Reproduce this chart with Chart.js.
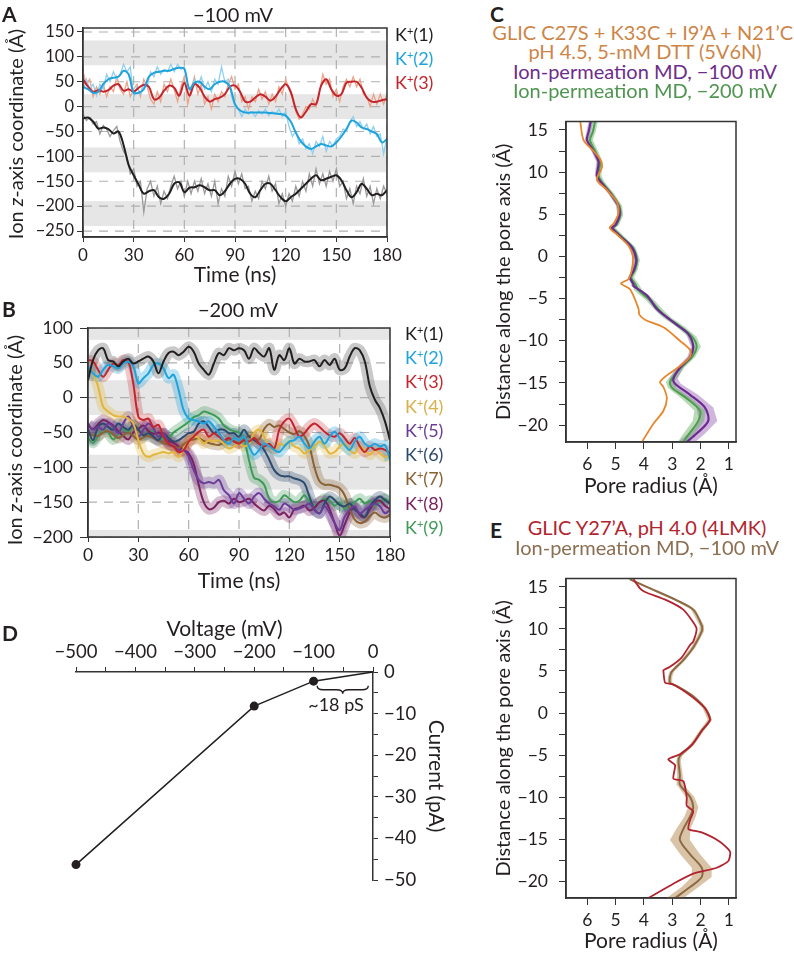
<!DOCTYPE html>
<html>
<head>
<meta charset="utf-8">
<script src="https://cdn.jsdelivr.net/npm/chart.js@4.4.0/dist/chart.umd.min.js"></script>
<style>
  body { margin: 0; background: #fff; }
  #fig { position: relative; width: 794px; height: 954px; overflow: hidden; font-family: Lato, "Open Sans", sans-serif; color: #231f20; }
  #fig canvas { position: absolute; }
  .t { position: absolute; white-space: nowrap; line-height: 1; }
  .c { transform: translate(-50%, -50%); }
  .mid { transform: translateY(-50%); }
  .rot { transform: translate(-50%, -50%) rotate(-90deg); }
  .letter { font-weight: 700; font-size: 21px; }
  .title { font-size: 20px; }
  .axis { font-size: 20px; }
  .leg { font-size: 18px; }
  .sup { font-size: 11px; position: relative; top: -6px; }
</style>
</head>
<body>
<div id="fig">
  <canvas id="chartA" width="420" height="288" style="left:0;top:0"></canvas>
  <canvas id="chartB" width="420" height="298" style="left:0;top:296px"></canvas>
  <canvas id="chartD" width="470" height="300" style="left:0;top:600px"></canvas>
  <canvas id="chartC" width="304" height="399" style="left:490px;top:100px"></canvas>
  <canvas id="chartE" width="304" height="397" style="left:490px;top:557px"></canvas>

  <div class="t letter" style="left:2px;top:3px">A</div>
  <div class="t letter" style="left:2px;top:298px">B</div>
  <div class="t letter" style="left:490px;top:3px">C</div>
  <div class="t letter" style="left:2px;top:622px">D</div>
  <div class="t letter" style="left:490px;top:519px">E</div>

  <div class="t title c" style="left:233px;top:14px">−100 mV</div>
  <div class="t title c" style="left:238px;top:309px">−200 mV</div>
  <div class="t axis rot" style="left:15px;top:134px">Ion <i>z</i>-axis coordinate (Å)</div>
  <div class="t axis rot" style="left:14px;top:440px">Ion <i>z</i>-axis coordinate (Å)</div>

  <div class="t leg mid" style="left:395px;top:34px;color:#231f20">K<span class="sup">+</span>(1)</div>
  <div class="t leg mid" style="left:395px;top:58px;color:#1fa3dc">K<span class="sup">+</span>(2)</div>
  <div class="t leg mid" style="left:395px;top:82px;color:#c4252c">K<span class="sup">+</span>(3)</div>

  <div class="t leg mid" style="left:405px;top:333px;color:#231f20">K<span class="sup">+</span>(1)</div>
  <div class="t leg mid" style="left:405px;top:357px;color:#1fa3dc">K<span class="sup">+</span>(2)</div>
  <div class="t leg mid" style="left:405px;top:381px;color:#c4252c">K<span class="sup">+</span>(3)</div>
  <div class="t leg mid" style="left:405px;top:406px;color:#d9b04a">K<span class="sup">+</span>(4)</div>
  <div class="t leg mid" style="left:405px;top:430px;color:#6b3c97">K<span class="sup">+</span>(5)</div>
  <div class="t leg mid" style="left:405px;top:454px;color:#2d4a6d">K<span class="sup">+</span>(6)</div>
  <div class="t leg mid" style="left:405px;top:478px;color:#8a6236">K<span class="sup">+</span>(7)</div>
  <div class="t leg mid" style="left:405px;top:503px;color:#7a2160">K<span class="sup">+</span>(8)</div>
  <div class="t leg mid" style="left:405px;top:527px;color:#3f9a59">K<span class="sup">+</span>(9)</div>

  <div class="t title c" style="left:645px;top:32px;color:#cd8547">GLIC C27S + K33C + I9’A + N21’C,</div>
  <div class="t title c" style="left:645px;top:51px;color:#cd8547">pH 4.5, 5-mM DTT (5V6N)</div>
  <div class="t title c" style="left:645px;top:71px;color:#6e2c8a">Ion-permeation MD, −100 mV</div>
  <div class="t title c" style="left:645px;top:90px;color:#4f9550">Ion-permeation MD, −200 mV</div>

  <div class="t title c" style="left:647px;top:527px;color:#b2242e">GLIC Y27’A, pH 4.0 (4LMK)</div>
  <div class="t title c" style="left:647px;top:547px;color:#8c6e50">Ion-permeation MD, −100 mV</div>

  <div class="t c" style="left:336px;top:704px;font-size:18px">~18 pS</div>
</div>

<script>
// ---------- data ----------
const times3 = [0,3,6,9,12,15,18,21,24,27,30,33,36,39,42,45,48,51,54,57,60,63,66,69,72,75,78,81,84,87,90,93,96,99,102,105,108,111,114,117,120,123,126,129,132,135,138,141,144,147,150,153,156,159,162,165,168,171,174,177,180];
const times2 = [0,2,4,6,8,10,12,14,16,18,20,22,24,26,28,30,32,34,36,38,40,42,44,46,48,50,52,54,56,58,60,62,64,66,68,70,72,74,76,78,80,82,84,86,88,90,92,94,96,98,100,102,104,106,108,110,112,114,116,118,120,122,124,126,128,130,132,134,136,138,140,142,144,146,148,150,152,154,156,158,160,162,164,166,168,170,172,174,176,178,180];
const timeTicks = [0,30,60,90,120,150,180];
const ionTicksA = [150,100,50,0,-50,-100,-150,-200,-250];
const ionTicksB = [100,50,0,-50,-100,-150,-200];
// membrane / periodic slabs shaded grey (Å)
const membraneBands = [[83,133],[-25,25],[-132,-82],[-240,-190]];

// panel A, -100 mV: running average (3 ns) and raw trace (2 ns)
const ionA1 = [-24,-22,-30,-44,-42,-45,-54,-50,-77,-117,-138,-157,-175,-170,-168,-182,-185,-175,-155,-152,-172,-163,-162,-158,-162,-168,-168,-178,-170,-155,-145,-145,-155,-175,-182,-168,-155,-155,-168,-182,-190,-182,-175,-165,-155,-145,-138,-148,-145,-141,-138,-148,-168,-182,-172,-155,-165,-178,-175,-178,-168];
const ionA2 = [40,35,28,30,45,55,58,60,72,65,28,28,35,60,68,70,72,72,76,78,76,35,48,50,40,35,45,50,50,40,5,-8,-12,-12,-12,-12,-12,-13,-14,-15,-18,-30,-52,-70,-80,-85,-80,-75,-78,-80,-72,-60,-45,-28,-32,-42,-45,-50,-55,-72,-65];
const ionA3 = [55,40,30,33,30,33,42,45,32,35,30,38,44,40,15,18,32,42,38,22,48,22,45,38,20,10,15,18,25,40,42,30,10,10,18,25,20,12,20,35,45,30,-5,-22,-10,5,5,42,55,35,22,25,48,50,50,38,18,10,10,13,15];
const rawA1 = [-15,-28,-22,-35,-30,-55,-38,-45,-60,-48,-40,-70,-90,-100,-135,-125,-160,-150,-212,-165,-150,-180,-160,-195,-170,-185,-160,-140,-165,-150,-180,-150,-175,-150,-170,-145,-175,-155,-180,-150,-195,-165,-180,-140,-160,-130,-155,-135,-165,-160,-190,-170,-185,-150,-165,-140,-170,-155,-195,-175,-200,-175,-190,-160,-180,-150,-170,-135,-160,-125,-155,-135,-160,-130,-150,-125,-160,-150,-185,-165,-195,-160,-175,-145,-180,-160,-195,-165,-185,-160,-175];
const rawA2 = [30,55,35,45,22,45,35,65,50,70,55,65,85,70,80,20,40,25,45,40,70,60,80,65,75,70,85,70,85,75,80,45,30,55,40,60,35,50,30,55,45,80,50,55,20,0,-5,-20,-5,-15,-10,-20,-8,-15,-5,-18,-10,-15,-5,-20,-10,-40,-60,-50,-75,-65,-85,-75,-95,-70,-80,-60,-90,-70,-80,-65,-60,-45,-50,-30,-20,-40,-30,-45,-35,-55,-40,-60,-55,-95,-60];
const rawA3 = [70,45,55,20,40,25,45,20,40,30,60,35,25,50,20,35,45,20,55,40,15,5,30,10,45,30,55,35,10,40,60,5,35,60,25,45,5,20,-5,25,10,30,20,45,60,35,45,10,20,-5,20,10,35,15,30,5,25,10,40,25,55,35,15,-10,-25,-15,0,-5,15,0,30,65,45,55,20,35,10,40,55,40,60,40,55,25,20,0,25,5,25,5,25];

// panel B, -200 mV: running averages (3 ns)
const ionB1 = [25,54,68,71,54,52,45,52,56,49,52,56,59,52,35,52,64,66,61,66,73,66,49,40,33,49,64,61,71,68,71,68,56,71,64,59,71,40,61,54,71,49,56,52,52,54,45,54,47,56,40,42,59,71,68,52,16,-3,-15,-34,-61];
const ionB2 = [45,35,30,40,47,45,42,49,52,45,21,28,35,47,49,42,28,33,11,-18,-30,-32,-34,-37,-34,-42,-51,-61,-66,-58,-61,-56,-70,-82,-75,-66,-70,-75,-78,-70,-63,-61,-56,-66,-73,-63,-56,-66,-56,-49,-58,-68,-75,-63,-56,-66,-70,-66,-70,-68,-89];
const ionB3 = [54,52,40,30,40,49,47,54,52,20,-27,-32,-30,-42,-39,-56,-66,-70,-78,-75,-63,-56,-49,-46,-56,-51,-56,-61,-58,-63,-66,-61,-63,-58,-66,-70,-66,-73,-46,-34,-30,-42,-56,-51,-42,-37,-42,-49,-54,-56,-51,-58,-66,-58,-70,-78,-70,-75,-73,-75,-80];
const ionB4 = [45,35,16,-13,-20,-25,-27,-27,-30,-37,-61,-80,-85,-82,-80,-78,-80,-78,-85,-73,-63,-56,-58,-66,-61,-63,-61,-66,-73,-70,-66,-70,-66,-51,-46,-56,-70,-75,-66,-68,-63,-70,-73,-80,-75,-70,-63,-70,-80,-78,-70,-66,-75,-80,-70,-75,-82,-75,-80,-85,-82];
const ionB5 = [-37,-46,-42,-46,-37,-42,-51,-37,-27,-42,-56,-46,-37,-44,-56,-51,-66,-70,-75,-75,-85,-104,-118,-123,-121,-123,-118,-133,-140,-152,-137,-145,-152,-142,-137,-145,-152,-156,-161,-152,-156,-161,-159,-156,-152,-161,-166,-156,-166,-180,-190,-171,-161,-156,-166,-161,-156,-152,-156,-166,-161];
const ionB6 = [-46,-61,-42,-37,-42,-46,-37,-42,-46,-39,-46,-54,-51,-56,-61,-51,-58,-63,-61,-56,-51,-49,-37,-34,-42,-51,-46,-46,-51,-51,-56,-46,-56,-61,-66,-75,-89,-104,-111,-113,-113,-116,-118,-123,-142,-161,-166,-152,-142,-147,-154,-156,-152,-161,-166,-171,-156,-147,-142,-147,-152];
const ionB7 = [-51,-54,-55,-50,-48,-53,-58,-54,-50,-55,-60,-57,-55,-58,-62,-65,-68,-70,-72,-67,-62,-60,-58,-62,-65,-67,-68,-64,-60,-62,-65,-60,-55,-58,-60,-45,-38,-42,-40,-45,-50,-52,-48,-55,-70,-100,-120,-125,-125,-127,-130,-140,-160,-175,-180,-178,-170,-165,-170,-172,-168];
const ionB8 = [-40,-45,-38,-32,-35,-40,-48,-55,-60,-50,-45,-40,-48,-52,-50,-55,-62,-65,-70,-75,-80,-95,-125,-150,-160,-158,-150,-148,-152,-145,-150,-148,-145,-152,-158,-162,-155,-160,-168,-165,-172,-160,-158,-155,-162,-158,-150,-148,-160,-180,-198,-182,-165,-158,-168,-172,-160,-150,-148,-155,-160];
const ionB9 = [-58,-65,-55,-45,-50,-60,-52,-45,-50,-40,-45,-55,-50,-48,-55,-60,-58,-50,-45,-40,-35,-28,-25,-20,-22,-25,-30,-40,-45,-48,-50,-60,-90,-115,-118,-125,-145,-150,-148,-140,-145,-150,-148,-140,-150,-155,-150,-145,-148,-155,-150,-160,-155,-150,-145,-152,-148,-155,-150,-145,-150];

// panel D, current-voltage
const voltages = [-500, -200, -100, 0];
const currents = [-46.3, -8.2, -2.2, 0];
const voltageTicks = [-500,-450,-400,-350,-300,-250,-200,-150,-100,-50,0];
const currentTicks = [0,-5,-10,-15,-20,-25,-30,-35,-40,-45,-50];
const conductanceSpan = [-94, -8];   // mV covered by the "~18 pS" brace
const conductanceLevel = -3.3;       // pA

// panels C and E, pore radius profiles
const radiusTicks = [6,5,4,3,2,1];
const zTicks = [15,12.5,10,7.5,5,2.5,0,-2.5,-5,-7.5,-10,-12.5,-15,-17.5,-20];

const radius5V6N = [6.25,6.13,5.78,5.54,5.48,5.66,5.31,4.95,4.9,5.07,5.21,4.95,4.55,4.39,4.43,4.55,4.81,4.49,4.19,4.16,3.96,3.31,2.73,2.37,2.37,2.73,3.19,3.43,3.31,3.19,3.31,3.66,4.07];
const z5V6N = [16.1,13.8,12.5,11.5,10.6,9.1,7.9,6.4,5.1,3.9,3.4,2.6,1.3,0,-1.6,-2.7,-3.2,-3.9,-6.2,-6.9,-7.5,-8.4,-10,-11.1,-11.9,-13,-14.1,-14.9,-15.5,-16.8,-18.3,-19.8,-22];

const radiusMD100 = [5.87,5.95,6.01,5.78,5.6,5.66,5.54,5.19,4.9,4.86,5.01,5.13,4.84,4.43,4.27,4.35,4.49,4.37,4.37,3.9,3.55,3.31,2.84,2.43,2.26,2.37,2.73,2.96,2.9,2.37,1.85,1.73,2.14,2.49];
const zMD100 = [16.1,14.8,13.8,12.5,11.2,9.6,8.9,7.5,6,4.9,3.7,3.4,2.4,1.1,-0.4,-1.6,-2.5,-3.3,-3.5,-4.6,-6.2,-6.9,-8.1,-9.2,-10.7,-11.9,-13.2,-14.5,-15.1,-16.4,-17.9,-19.5,-21,-22];
const sdMD100 = [0.08,0.08,0.08,0.08,0.08,0.08,0.08,0.08,0.08,0.08,0.08,0.08,0.08,0.08,0.08,0.08,0.08,0.08,0.08,0.08,0.08,0.08,0.08,0.08,0.08,0.1,0.12,0.15,0.2,0.28,0.3,0.32,0.3,0.3];

const radiusMD200 = [5.72,5.8,5.9,5.72,5.55,5.6,5.5,5.16,4.87,4.83,4.98,5.1,4.8,4.4,4.24,4.32,4.45,4.3,4.2,3.78,3.42,3.2,2.72,2.3,2.14,2.3,2.7,3.08,3,2.5,2.02,2.08,2.4,2.61];
const zMD200 = [16.1,14.8,13.8,12.5,11.2,9.6,8.9,7.5,6,4.9,3.7,3.4,2.4,1.1,-0.4,-1.6,-2.5,-3.3,-4,-5.2,-6.5,-7.2,-8.3,-9.5,-10.7,-11.9,-13.2,-14.9,-15.6,-16.8,-18.3,-19.5,-21,-22];
const sdMD200 = [0.1,0.1,0.1,0.1,0.1,0.1,0.1,0.1,0.1,0.1,0.1,0.1,0.1,0.1,0.1,0.1,0.1,0.12,0.15,0.15,0.15,0.15,0.15,0.15,0.15,0.12,0.12,0.15,0.15,0.18,0.2,0.2,0.2,0.2];

const radius4LMK = [4.37,4.13,3.96,3.19,2.61,2.26,2.14,2.26,2.37,2.67,3.08,3.31,3.31,3.25,2.96,2.37,1.85,1.67,1.96,2.26,2.73,3.14,2.9,2.96,2.61,2.49,2.49,2.26,2.37,2.43,1.96,1.32,0.96,1.02,1.43,2.26,2.96,3.84];
const z4LMK = [15.9,14.8,14.4,13.4,12.3,10.8,10,8.5,8.1,6.6,5.5,5.1,4.9,3.6,3.4,2.1,0.6,-0.8,-2.1,-3.6,-4.9,-5.5,-6.2,-7.8,-8.1,-10,-11,-11.7,-12.7,-13.8,-14.2,-15.3,-16.5,-17.6,-18.4,-19.1,-20.3,-22];

const radiusY27A = [4.49,3.9,2.84,2.26,1.96,1.96,2.26,2.61,3.02,3.08,3.08,2.84,2.31,1.85,1.67,1.96,2.31,2.73,2.78,2.73,2.73,2.37,2.26,2.37,2.61,2.73,2.37,1.96,1.96,2.37,2.9];
const zY27A = [15.9,15,13.4,12.3,10.4,9.7,7.8,6.3,4.9,4.3,3.6,3.2,2.1,0.6,-0.8,-2.1,-3.8,-5.1,-5.7,-7.4,-8.5,-10,-11.2,-12.3,-13.8,-15.1,-16.8,-18.4,-19.5,-20.7,-22];
const sdY27A = [0.08,0.08,0.08,0.08,0.08,0.08,0.08,0.08,0.08,0.08,0.08,0.08,0.08,0.08,0.08,0.08,0.08,0.08,0.08,0.1,0.12,0.15,0.18,0.2,0.25,0.35,0.35,0.35,0.35,0.3,0.3];

// ---------- styling ----------
const ink = '#231f20';
const ionColorsB = ['#231f20','#1fa3dc','#c4252c','#e2b53e','#6b3c97','#2d4a6d','#8a6236','#7a2160','#3f9a59'];
const ionRawColorsB = ['rgba(120,120,120,0.4)','rgba(31,163,220,0.3)','rgba(196,37,44,0.25)','rgba(226,181,62,0.3)','rgba(107,60,151,0.3)','rgba(45,74,109,0.3)','rgba(138,98,54,0.3)','rgba(122,33,96,0.3)','rgba(63,154,89,0.3)'];

Chart.defaults.font.family = 'Lato, "Open Sans", sans-serif';
Chart.defaults.color = ink;
Chart.defaults.animation = false;

const minus = v => (v < 0 ? '\u2212' + Math.abs(v) : String(v));
const fixTicks = list => scale => { scale.ticks = list.map(value => ({ value })); };
const pts = (xs, ys) => xs.map((x, i) => ({ x, y: ys[i] }));

// grey slabs + dashed guides under the data, frame on top
const panelDeco = {
  id: 'panelDeco',
  beforeDatasetsDraw(chart, args, opts) {
    const { ctx, chartArea: a, scales: { x, y } } = chart;
    ctx.save();
    ctx.beginPath();
    ctx.rect(a.left, a.top, a.width, a.height);
    ctx.clip();
    ctx.fillStyle = '#e6e6e6';
    (opts.bands || []).forEach(([lo, hi]) => {
      const y1 = y.getPixelForValue(hi);
      const y2 = y.getPixelForValue(lo);
      ctx.fillRect(a.left, y1, a.width, y2 - y1);
    });
    if (opts.dashed) {
      ctx.strokeStyle = '#b0b0b0';
      ctx.lineWidth = 1.2;
      ctx.setLineDash([9, 7]);
      y.ticks.forEach(t => {
        const py = y.getPixelForValue(t.value);
        ctx.beginPath(); ctx.moveTo(a.left, py); ctx.lineTo(a.right, py); ctx.stroke();
      });
      x.ticks.forEach(t => {
        const px = x.getPixelForValue(t.value);
        ctx.beginPath(); ctx.moveTo(px, a.top); ctx.lineTo(px, a.bottom); ctx.stroke();
      });
    }
    ctx.restore();
  },
  afterDatasetsDraw(chart, args, opts) {
    if (!opts.box) return;
    const { ctx, chartArea: a } = chart;
    ctx.save();
    ctx.strokeStyle = '#333';
    ctx.lineWidth = 1.5;
    ctx.strokeRect(a.left, a.top, a.width, a.height);
    ctx.restore();
  }
};

// shaded spread around the MD profiles
const ribbon = {
  id: 'ribbon',
  beforeDatasetsDraw(chart) {
    const { ctx, chartArea: a, scales: { x, y } } = chart;
    ctx.save();
    ctx.beginPath();
    ctx.rect(a.left, a.top, a.width, a.height);
    ctx.clip();
    chart.data.datasets.forEach(ds => {
      if (!ds.spread) return;
      ctx.beginPath();
      ds.data.forEach((p, i) => {
        const px = x.getPixelForValue(p.x + ds.spread[i]);
        const py = y.getPixelForValue(p.y);
        if (i) ctx.lineTo(px, py); else ctx.moveTo(px, py);
      });
      for (let i = ds.data.length - 1; i >= 0; i--) {
        const p = ds.data[i];
        ctx.lineTo(x.getPixelForValue(p.x - ds.spread[i]), y.getPixelForValue(p.y));
      }
      ctx.closePath();
      ctx.fillStyle = ds.bandColor;
      ctx.fill();
    });
    ctx.restore();
  }
};

const brace = {
  id: 'brace',
  afterDatasetsDraw(chart, args, o) {
    const { ctx, scales: { x, y } } = chart;
    const x1 = x.getPixelForValue(o.from);
    const x2 = x.getPixelForValue(o.to);
    const y0 = y.getPixelForValue(o.at);
    const h = o.depth, m = y0 + h / 2, xm = (x1 + x2) / 2, q = 6;
    ctx.save();
    ctx.strokeStyle = ink;
    ctx.lineWidth = 1.4;
    ctx.beginPath();
    ctx.moveTo(x1, y0);
    ctx.quadraticCurveTo(x1, m, x1 + q, m);
    ctx.lineTo(xm - q, m);
    ctx.quadraticCurveTo(xm, m, xm, y0 + h);
    ctx.quadraticCurveTo(xm, m, xm + q, m);
    ctx.lineTo(x2 - q, m);
    ctx.quadraticCurveTo(x2, m, x2, y0);
    ctx.stroke();
    ctx.restore();
  }
};

const baseOpts = {
  responsive: false,
  animation: false,
  elements: { point: { radius: 0 } },
  plugins: { legend: { display: false }, tooltip: { enabled: false } }
};

function axis(extra) {
  return Object.assign({
    type: 'linear',
    grid: { drawOnChartArea: false, color: '#333', tickLength: 5 },
    border: { color: '#333', width: 1.5 },
    ticks: { autoSkip: false, maxRotation: 0, color: ink }
  }, extra);
}

// ---------- panel A ----------
const smoothA = [ionA1, ionA2, ionA3];
const rawA = [rawA1, rawA2, rawA3];
const rawColorsA = ['#9a9a9a', '#8fd0f0', '#eca38a'];
new Chart(document.getElementById('chartA'), {
  type: 'line',
  data: {
    datasets: [
      ...rawA.map((r, i) => ({ data: pts(times2, r), borderColor: rawColorsA[i], borderWidth: 1.3, tension: 0, order: 2 })),
      ...smoothA.map((s, i) => ({ data: pts(times3, s), borderColor: ionColorsB[i], borderWidth: 2, tension: 0.35, order: 1 }))
    ]
  },
  options: Object.assign({}, baseOpts, {
    layout: { padding: { top: 28, right: 33, left: 0, bottom: 0 } },
    plugins: Object.assign({}, baseOpts.plugins, { panelDeco: { bands: membraneBands, dashed: true, box: true } }),
    scales: {
      x: axis({
        min: 0, max: 180,
        afterBuildTicks: fixTicks(timeTicks),
        afterFit: s => { s.height = 51; },
        ticks: { autoSkip: false, maxRotation: 0, color: ink, padding: 3, font: { size: 17 }, callback: v => minus(v) },
        title: { display: true, text: 'Time (ns)', font: { size: 21 }, padding: 0, color: ink }
      }),
      y: axis({
        min: -262, max: 158,
        afterBuildTicks: fixTicks(ionTicksA),
        afterFit: s => { s.width = 83; },
        grid: { drawOnChartArea: false, color: '#333', tickLength: 6 },
        ticks: { autoSkip: false, color: ink, padding: 3, font: { size: 16.5 }, callback: v => minus(v) }
      })
    }
  }),
  plugins: [panelDeco]
});

// ---------- panel B ----------
const smoothB = [ionB1, ionB2, ionB3, ionB4, ionB5, ionB6, ionB7, ionB8, ionB9];
new Chart(document.getElementById('chartB'), {
  type: 'line',
  data: {
    datasets: [
      ...smoothB.map((s, i) => ({ data: pts(times3, s), borderColor: ionRawColorsB[i], borderWidth: 11, tension: 0.2, order: 2 })),
      ...smoothB.map((s, i) => ({ data: pts(times3, s), borderColor: ionColorsB[i], borderWidth: 2, tension: 0.35, order: 1 }))
    ]
  },
  options: Object.assign({}, baseOpts, {
    layout: { padding: { top: 32, right: 30, left: 0, bottom: 0 } },
    plugins: Object.assign({}, baseOpts.plugins, { panelDeco: { bands: membraneBands, dashed: true, box: true } }),
    scales: {
      x: axis({
        min: 0, max: 180,
        afterBuildTicks: fixTicks(timeTicks),
        afterFit: s => { s.height = 57; },
        ticks: { autoSkip: false, maxRotation: 0, color: ink, padding: 3, font: { size: 17.5 }, callback: v => minus(v) },
        title: { display: true, text: 'Time (ns)', font: { size: 21 }, padding: 0, color: ink }
      }),
      y: axis({
        min: -200, max: 100,
        afterBuildTicks: fixTicks(ionTicksB),
        afterFit: s => { s.width = 88; },
        grid: { drawOnChartArea: false, color: '#333', tickLength: 8 },
        ticks: { autoSkip: false, color: ink, padding: 7, font: { size: 17.5 }, callback: v => minus(v) }
      })
    }
  }),
  plugins: [panelDeco]
});

// ---------- panel D ----------
new Chart(document.getElementById('chartD'), {
  type: 'line',
  data: {
    datasets: [{
      data: pts(voltages, currents),
      borderColor: ink, borderWidth: 1.5, tension: 0, clip: false,
      pointRadius: [4.5, 4.5, 4.5, 0], pointBackgroundColor: ink, pointBorderWidth: 0
    }]
  },
  options: Object.assign({}, baseOpts, {
    layout: { padding: { top: 0, right: 22, left: 76, bottom: 20 } },
    plugins: Object.assign({}, baseOpts.plugins, { brace: { from: conductanceSpan[0], to: conductanceSpan[1], at: conductanceLevel, depth: 8 } }),
    scales: {
      x: axis({
        position: 'top', min: -500, max: 0,
        afterBuildTicks: fixTicks(voltageTicks),
        afterFit: s => { s.height = 72; },
        ticks: { autoSkip: false, maxRotation: 0, color: ink, padding: 4, font: { size: 18.5 }, callback: v => (v % 100 === 0 ? minus(v) : '') },
        title: { display: true, text: 'Voltage (mV)', font: { size: 21 }, padding: { top: 17, bottom: 0 }, color: ink }
      }),
      y: axis({
        position: 'right', min: -50, max: 0,
        afterBuildTicks: fixTicks(currentTicks),
        afterFit: s => { s.width = 75; },
        ticks: { autoSkip: false, color: ink, padding: 6, font: { size: 18.5 }, callback: v => (v % 10 === 0 ? minus(v) : '') },
        title: { display: true, text: 'Current (pA)', font: { size: 21 }, padding: { top: 0, bottom: 0 }, color: ink }
      })
    }
  }),
  plugins: [brace]
});

// ---------- panels C and E ----------
function poreChart(id, datasets, xHeight) {
  return new Chart(document.getElementById(id), {
    type: 'line',
    data: { datasets },
    options: Object.assign({}, baseOpts, {
      layout: { padding: { top: 8, right: 58, left: 0, bottom: 0 } },
      plugins: Object.assign({}, baseOpts.plugins, { panelDeco: { box: true } }),
      scales: {
        x: axis({
          min: 0.75, max: 6.75, reverse: true,
          afterBuildTicks: fixTicks(radiusTicks),
          afterFit: s => { s.height = xHeight; },
          grid: { drawOnChartArea: false, color: '#333', tickLength: 7 },
          ticks: { autoSkip: false, maxRotation: 0, color: ink, padding: 5, font: { size: 17.5 } },
          title: { display: true, text: 'Pore radius (Å)', font: { size: 21 }, padding: 0, color: ink }
        }),
        y: axis({
          min: -22, max: 16,
          afterBuildTicks: fixTicks(zTicks),
          afterFit: s => { s.width = 76; },
          grid: { drawOnChartArea: false, color: '#333', tickLength: 7 },
          ticks: { autoSkip: false, color: ink, padding: 11, font: { size: 17.5 }, callback: v => (v % 5 === 0 ? minus(v) : '') },
          title: { display: true, text: 'Distance along the pore axis (Å)', font: { size: 20 }, padding: { top: 2, bottom: 0 }, color: ink }
        })
      }
    }),
    plugins: [panelDeco, ribbon]
  });
}

poreChart('chartC', [
  { data: pts(radius5V6N, z5V6N), borderColor: '#e8862c', borderWidth: 1.8, tension: 0.3, order: 1 },
  { data: pts(radiusMD100, zMD100), spread: sdMD100, bandColor: 'rgba(150,90,180,0.45)', borderColor: '#6b2c91', borderWidth: 2.2, tension: 0.3, order: 2 },
  { data: pts(radiusMD200, zMD200), spread: sdMD200, bandColor: 'rgba(100,170,100,0.45)', borderColor: '#4e9e4e', borderWidth: 2, tension: 0.3, order: 3 }
], 57);

poreChart('chartE', [
  { data: pts(radius4LMK, z4LMK), borderColor: '#b2232f', borderWidth: 1.8, tension: 0.2, order: 1 },
  { data: pts(radiusY27A, zY27A), spread: sdY27A, bandColor: 'rgba(196,164,122,0.65)', borderColor: '#8c6a45', borderWidth: 2, tension: 0.3, order: 2 }
], 56);
</script>
</body>
</html>
